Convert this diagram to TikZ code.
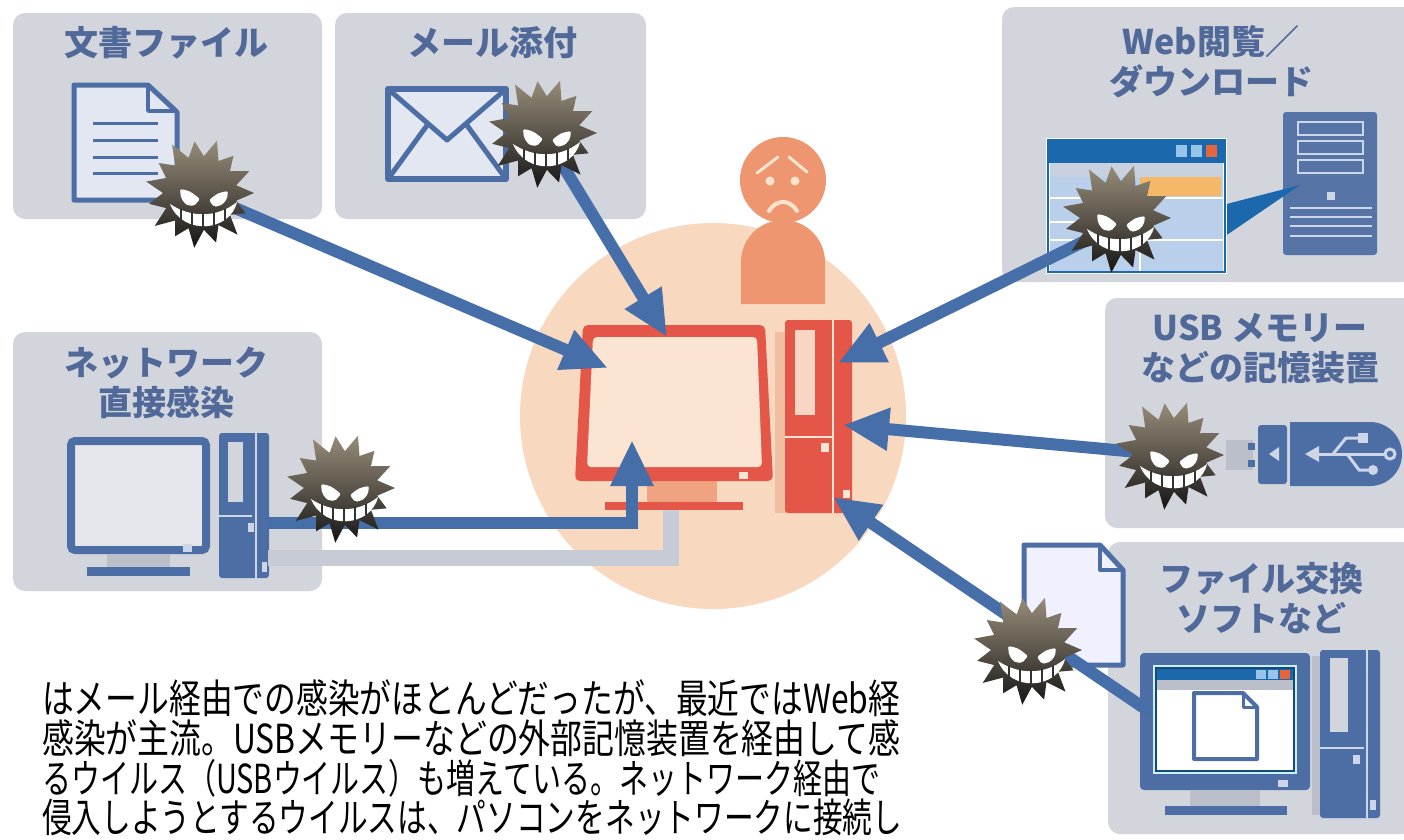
\documentclass[tikz,border=0pt]{standalone}
\usepackage{fontspec}
\usepackage{graphicx}
\usetikzlibrary{arrows.meta}
\newfontfamily\jp{Noto Sans CJK JP}

\definecolor{boxgray}{RGB}{211,213,221}
\definecolor{titleblue}{RGB}{80,105,152}
\definecolor{iconblue}{RGB}{76,110,165}
\definecolor{arrowblue}{RGB}{70,110,168}
\definecolor{paleblue}{RGB}{226,231,241}
\definecolor{deepblue}{RGB}{28,104,172}
\definecolor{weblight}{RGB}{186,208,234}
\definecolor{webgray}{RGB}{200,210,222}
\definecolor{orangebar}{RGB}{244,184,104}
\definecolor{sqlight}{RGB}{150,196,234}
\definecolor{sqred}{RGB}{232,100,60}
\definecolor{serverblue}{RGB}{86,116,166}
\definecolor{lightline}{RGB}{205,214,230}
\definecolor{neckgray}{RGB}{186,191,202}
\definecolor{cablegray}{RGB}{198,203,214}
\definecolor{peach}{RGB}{248,217,192}
\definecolor{screenpeach}{RGB}{251,228,210}
\definecolor{shadowpeach}{RGB}{240,190,160}
\definecolor{pcred}{RGB}{228,86,72}
\definecolor{standorange}{RGB}{240,163,128}
\definecolor{personorange}{RGB}{238,150,112}
\definecolor{facelight}{RGB}{253,228,208}
\definecolor{virtop}{RGB}{150,140,120}
\definecolor{virmid}{RGB}{90,84,74}

\begin{document}
\begin{tikzpicture}[x=1pt,y=-1pt,
  srcbox/.style={fill=boxgray, rounded corners=12pt, inner sep=0pt},
  title/.style={text=titleblue, font=\jp\bfseries\fontsize{34}{40}\selectfont, align=center, inner sep=0pt},
  bodytext/.style={anchor=base west, inner sep=0pt, font=\jp\fontsize{40}{40}\selectfont},
  arr/.style={draw=arrowblue, line width=12pt, -{Triangle[length=46pt,width=40pt]}},
  virus/.pic={
    \shade[top color=virtop, bottom color=black!92, middle color=virmid]
      (0:54) \foreach \a/\r in {0/54,24/50,48/56,72/52,96/55,120/50,144/56,168/52,192/55,216/51,240/56,264/52,288/55,312/50,336/54}
        { -- (\a:\r) -- ({\a+12}:37) } -- cycle;
    \begin{scope}[shift={(3,3)}]
      \fill[white, rounded corners=2pt] (-23,-7) .. controls (-13,-5) .. (-3,3) -- (-9,10) .. controls (-17,9) .. (-22,2) -- cycle;
      \fill[white, rounded corners=2pt] (25,-5) .. controls (15,-3) .. (6,4) -- (11,11) .. controls (19,9) .. (24,3) -- cycle;
      \fill[white] (-33,8) .. controls (-12,22) and (14,22) .. (34,6) .. controls (27,36) and (-20,40) .. (-33,8) -- cycle;
      \foreach \x/\ya/\yb in {-22/13/25,-11/16/30,0/17/32,11/16/30,22/13/24}
        \draw[black!80, line width=2.4pt] (\x,\ya) -- (\x,\yb);
    \end{scope}
  }]
\useasboundingbox (0,0) rectangle (1404,839);
\clip (0,0) rectangle (1404,839);
\fill[white] (0,0) rectangle (1404,839);

% ---- source panels ----
\node[srcbox, minimum width=309pt, minimum height=206pt] (docbox) at (167.5,116) {};
\node[srcbox, minimum width=311pt, minimum height=206pt] (mailbox) at (490.5,116) {};
\node[srcbox, minimum width=413pt, minimum height=275pt] (webbox) at (1208.5,144.5) {};
\node[srcbox, minimum width=310pt, minimum height=230pt] (usbbox) at (1260,413) {};
\node[srcbox, minimum width=307pt, minimum height=292pt] (p2pbox) at (1261.5,688) {};
\node[srcbox, minimum width=309pt, minimum height=259pt] (netbox) at (167.5,461.5) {};

\node[title] (doctitle) at (166,43) {文書ファイル};
\node[title] (mailtitle) at (492,43) {メール添付};
\node[title] (webtitle) at (1211,62) {Web閲覧／\\ダウンロード};
\node[title] (usbtitle) at (1260,349) {USB メモリー\\などの記憶装置};
\node[title] (p2ptitle) at (1261,598) {ファイル交換\\ソフトなど};
\node[title] (nettitle) at (166,383) {ネットワーク\\直接感染};

% ---- document icon ----
\filldraw[fill=paleblue, draw=iconblue, line width=5pt, line join=round]
  (74,85) -- (148,85) -- (177,112) -- (177,200) -- (74,200) -- cycle;
\draw[iconblue, line width=3.5pt, line join=round] (148,86) -- (148,111) -- (176,111);
\foreach \y in {123,140,157,173} \draw[iconblue, line width=3pt] (93,\y) -- (158,\y);

% ---- envelope ----
\filldraw[fill=paleblue, draw=iconblue, line width=6pt, line join=round] (388,89) rectangle (506,179);
\draw[iconblue, line width=5pt, line join=round] (388,89) -- (447,140) -- (506,89);
\draw[iconblue, line width=5pt] (388,179) -- (428,124);
\draw[iconblue, line width=5pt] (506,179) -- (466,124);

% ---- browser and server ----
\fill[serverblue, rounded corners=3pt] (1283,112) rectangle (1377,255);
\foreach \y in {122,141,160} \draw[lightline, line width=2pt] (1298,\y) rectangle (1363,\y+13);
\fill[lightline] (1327,192) rectangle (1335,200);
\foreach \y in {208,217,226,236} \draw[lightline, line width=2.5pt] (1290,\y) -- (1372,\y);
\fill[deepblue] (1215,207) -- (1300,185) -- (1215,243) -- cycle;
\fill[white] (1046,138) rectangle (1227,274);
\fill[weblight] (1050,163) rectangle (1223,272);
\fill[webgray] (1050,163) rectangle (1223,177);
\fill[orangebar] (1140,177) rectangle (1221,196);
\draw[white, line width=2.5pt] (1050,198) -- (1223,198) (1050,240) -- (1223,240) (1140,198) -- (1140,272) (1050,222) -- (1140,222);
\fill[deepblue] (1048,140) rectangle (1225,163);
\draw[deepblue, line width=2pt] (1048,140) rectangle (1225,272);
\fill[sqlight] (1176,145) rectangle (1187,157);
\fill[sqlight] (1191,145) rectangle (1202,157);
\fill[sqred] (1206,145) rectangle (1217,157);

% ---- USB stick ----
\fill[neckgray] (1226,440) rectangle (1253,470);
\fill[iconblue] (1248,443) rectangle (1255,450);
\fill[iconblue] (1248,460) rectangle (1255,467);
\fill[iconblue, rounded corners=3pt] (1258,425) rectangle (1287,484);
\fill[lightline] (1269,454) -- (1279,447) -- (1279,461) -- cycle;
\fill[iconblue] (1290,422) -- (1370,422) arc (270:450:32) -- (1290,486) -- cycle;
\draw[lightline, line width=3pt] (1318,454) -- (1384,454);
\fill[lightline] (1305,454) -- (1319,446) -- (1319,462) -- cycle;
\draw[lightline, line width=3pt] (1390,454) circle (5);
\draw[lightline, line width=3pt] (1333,454) -- (1346,438) -- (1358,438);
\fill[lightline] (1358,433) rectangle (1368,443);
\draw[lightline, line width=3pt] (1347,454) -- (1359,470) -- (1369,470);
\fill[lightline] (1373,470) circle (5);

% ---- file exchange PC ----
\filldraw[fill=white!94!blue, draw=iconblue, line width=5pt, line join=round]
  (1024,545) -- (1100,545) -- (1123,570) -- (1123,665) -- (1024,665) -- cycle;
\draw[iconblue, line width=4pt, line join=round] (1100,546) -- (1100,570) -- (1122,570);
\fill[iconblue, rounded corners=4pt] (1140,653) rectangle (1310,790);
\fill[white!80!cyan] (1153,665) rectangle (1297,774);
\fill[white] (1156,668) rectangle (1294,771);
\fill[neckgray] (1156,680) rectangle (1294,690);
\fill[deepblue] (1156,668) rectangle (1294,680);
\draw[deepblue!70!black, line width=1.5pt] (1156,668) rectangle (1294,771);
\fill[sqlight] (1256,670) rectangle (1266,679);
\fill[sqlight] (1268,670) rectangle (1278,679);
\fill[sqred] (1280,670) rectangle (1290,679);
\filldraw[fill=white, draw=iconblue, line width=4pt, line join=round]
  (1194,693) -- (1243,693) -- (1257,707) -- (1257,759) -- (1194,759) -- cycle;
\draw[iconblue, line width=3pt, line join=round] (1243,694) -- (1243,707) -- (1256,707);
\fill[lightline] (1278,780) rectangle (1288,787);
\fill[neckgray] (1190,790) rectangle (1260,806);
\fill[iconblue] (1165,806) rectangle (1287,815);
\fill[neckgray] (1312,656) rectangle (1322,815);
\fill[iconblue, rounded corners=3pt] (1320,650) rectangle (1380,818);
\fill[boxgray] (1330,658) rectangle (1348,732);
\draw[lightline, line width=1.5pt] (1320,748) -- (1364,748) (1367,650) -- (1367,818);
\fill[lightline] (1353,755) rectangle (1360,764);
\fill[lightline] (1370,800) rectangle (1376,810);

% ---- network PC ----
\filldraw[fill=boxgray!60!white, draw=iconblue, line width=8pt, rounded corners=4pt] (71,441) rectangle (206,550);
\fill[lightline] (183,544) rectangle (192,552);
\fill[neckgray] (107,554) rectangle (170,567);
\fill[iconblue] (87,567) rectangle (190,576);
\fill[iconblue, rounded corners=3pt] (219,433) rectangle (269,578);
\fill[boxgray] (228,442) rectangle (243,502);
\draw[lightline, line width=1.5pt] (219,516) -- (252,516) (256,433) -- (256,578);
\fill[lightline] (248,523) rectangle (254,532);
\fill[lightline] (262,562) rectangle (267,572);

% ---- central user ----
\fill[peach] (713,416) circle (193);
\coordinate (cabstart) at (268,558);
\coordinate (cabend) at (671,505);
\draw[cablegray, line width=16pt] (cabstart) -| (cabend);
\fill[personorange] (741,304) -- (741,262) arc (180:360:42) -- (825,304) -- cycle;
\fill[personorange] (783,180) circle (43);
\draw[facelight, line width=3pt, line cap=round] (757,173) -- (778,157) (789,157) -- (807,172);
\fill[facelight] (770,181) circle (4.5);
\fill[facelight] (795,181) circle (4.5);
\draw[facelight, line width=4pt, line cap=round] (769,211) .. controls (776,199) and (790,199) .. (797,211);

\fill[standorange] (647,478) rectangle (717,503);
\fill[pcred] (605,502) rectangle (743,510);
\fill[pcred, rounded corners=5pt] (583,325) -- (765,325) -- (773,481) -- (575,481) -- cycle;
\fill[screenpeach, rounded corners=4pt] (593,337) -- (757,337) -- (762,467) -- (587,467) -- cycle;
\fill[screenpeach] (739,472) rectangle (748,479);
\fill[shadowpeach] (775,332) rectangle (786,513);
\fill[pcred, rounded corners=3pt] (785,320) rectangle (852,513);
\fill[screenpeach!90!pcred] (795,330) rectangle (815,415);
\draw[screenpeach, line width=1.5pt] (785,437) -- (832,437) (833,320) -- (833,513);
\fill[screenpeach] (821,443) rectangle (829,452);
\fill[screenpeach] (843,490) rectangle (850,498);

% ---- infection routes ----
\coordinate (v1) at (200,193);
\coordinate (v2) at (543,133);
\coordinate (v3) at (1117,218);
\coordinate (v4) at (1170,455);
\coordinate (v5) at (1028,650);
\coordinate (v6) at (341,488);
\coordinate (w3) at (1095,236);
\coordinate (fx) at (1150,712);
\coordinate (nstart) at (268,523);
\coordinate (t1) at (608,368);
\coordinate (t2) at (667,337);
\coordinate (t3) at (838,363);
\coordinate (t4) at (843,425);
\coordinate (t5) at (833,497);
\coordinate (t6) at (632,440);

\draw[arr] (v1) -- (t1);
\draw[arr] (v2) -- (t2);
\draw[arr] (w3) -- (t3);
\draw[arr] (v4) -- (t4);
\draw[arr] (fx) -- (t5);
\draw[arr] (nstart) -| (t6);

\pic at (v1) {virus};
\pic at (v2) {virus};
\pic at (v3) {virus};
\pic at (v4) {virus};
\pic at (v5) {virus};
\pic at (v6) {virus};

% ---- caption ----
\node[bodytext] (line1) at (42,713) {\resizebox{858pt}{\height}{はメール経由での感染がほとんどだったが、最近ではWeb経}};
\node[bodytext] (line2) at (42,753) {\resizebox{858pt}{\height}{感染が主流。USBメモリーなどの外部記憶装置を経由して感}};
\node[bodytext] (line3) at (42,793) {\resizebox{838pt}{\height}{るウイルス（USBウイルス）も増えている。ネットワーク経由で}};
\node[bodytext] (line4) at (42,832) {\resizebox{860pt}{\height}{侵入しようとするウイルスは、パソコンをネットワークに接続し}};
\end{tikzpicture}
\end{document}
